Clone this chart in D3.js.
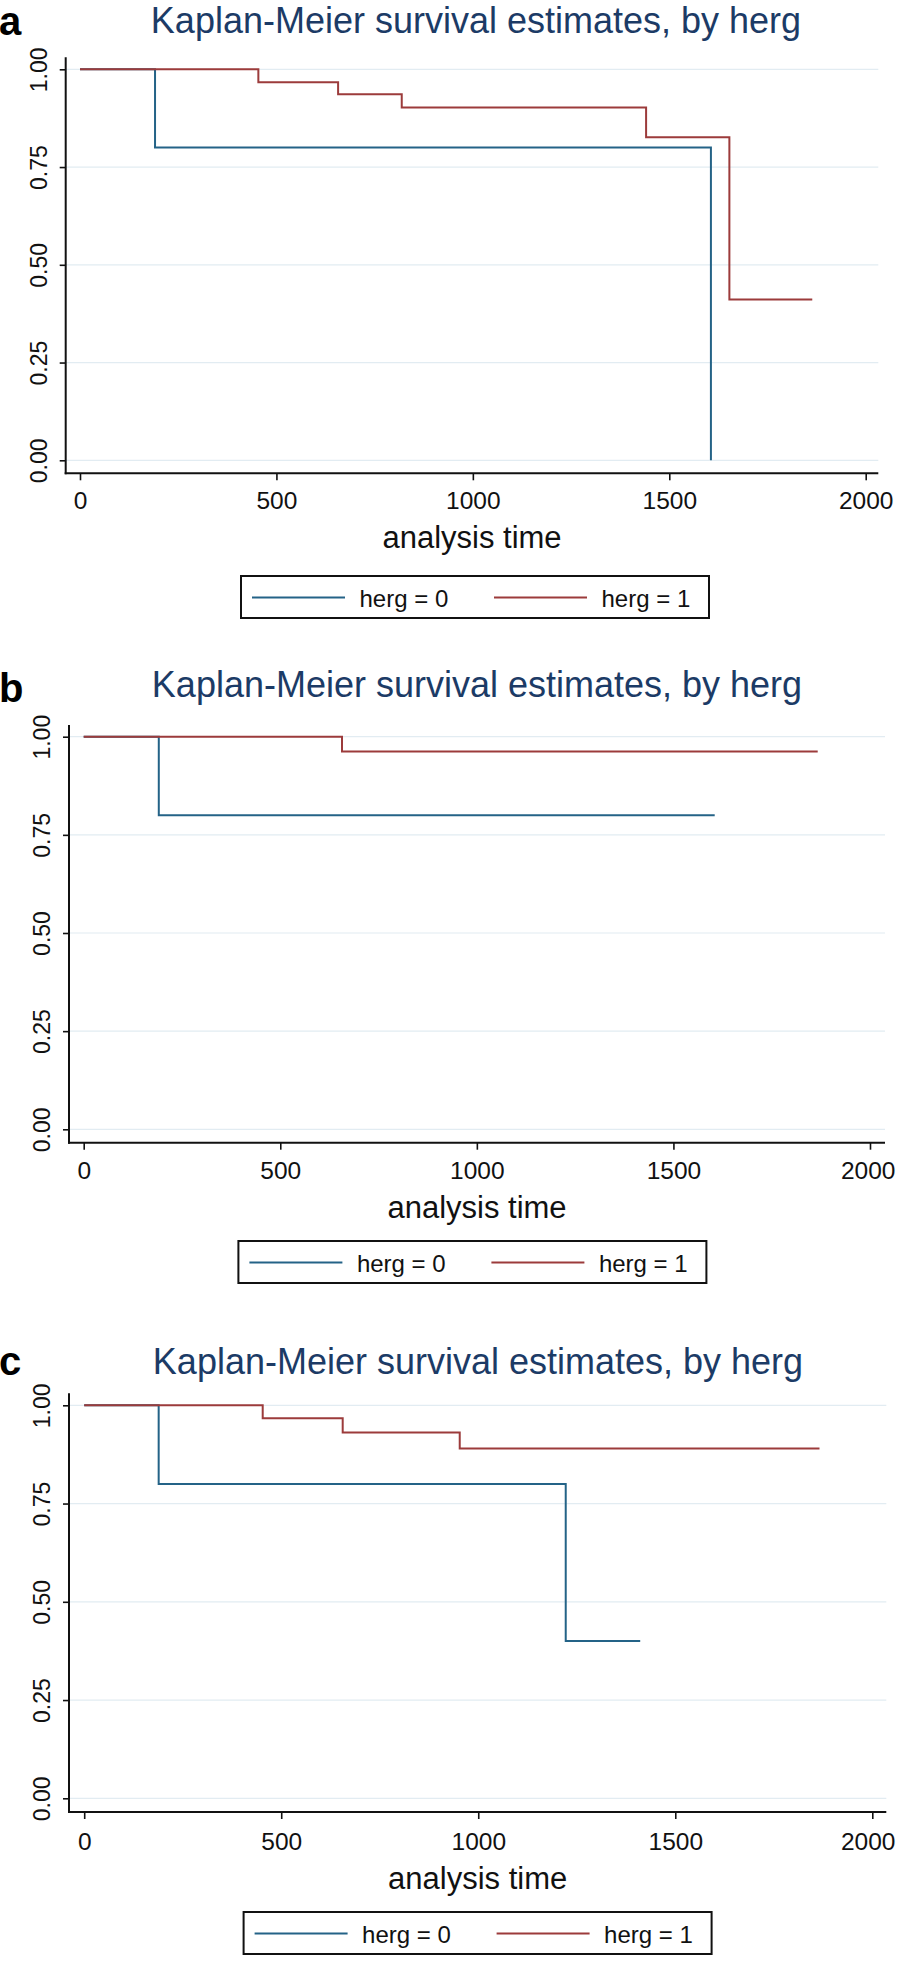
<!DOCTYPE html>
<html><head><meta charset="utf-8">
<script src="https://cdn.jsdelivr.net/npm/d3@7"></script>
<style>
body{margin:0;background:#fff}
svg{display:block}
text{font-family:"Liberation Sans",Arial,Helvetica,sans-serif}
</style>
</head><body>
<svg id="chart" width="898" height="1961"></svg>
<script>
// ---------- data ----------
const panelLabels = ["a", "b", "c"];
const chartTitle = "Kaplan-Meier survival estimates, by herg";
const xAxisTitle = "analysis time";
const seriesNames = ["herg = 0", "herg = 1"];
const xTicks = [0, 500, 1000, 1500, 2000];
const yTicks = [0, 0.25, 0.5, 0.75, 1];

const aHerg0Time = [0, 191, 1606];
const aHerg0Surv = [1, 0.8, 0];
const aHerg1Time = [0, 454, 657, 819, 1441, 1653, 1864];
const aHerg1Surv = [1, 0.967, 0.936, 0.902, 0.826, 0.411, 0.411];

const bHerg0Time = [0, 191, 1605];
const bHerg0Surv = [1, 0.8, 0.8];
const bHerg1Time = [0, 657, 1867];
const bHerg1Surv = [1, 0.962, 0.962];

const cHerg0Time = [0, 189, 1222, 1411];
const cHerg0Surv = [1, 0.8, 0.4, 0.4];
const cHerg1Time = [0, 453, 656, 953, 1866];
const cHerg1Surv = [1, 0.967, 0.931, 0.890, 0.890];

const panelSeries = [
  [[aHerg0Time, aHerg0Surv], [aHerg1Time, aHerg1Surv]],
  [[bHerg0Time, bHerg0Surv], [bHerg1Time, bHerg1Surv]],
  [[cHerg0Time, cHerg0Surv], [cHerg1Time, cHerg1Surv]]
];

// ---------- layout / style ----------
const seriesColors = ["#246387", "#9c3b3b"];
const layouts = [
  {letterY: 35, titleY: 33, titleX: 476, axisX: 65.7, axisTop: 57.3, axisY: 473.3, axisRight: 878.3,
   xr: [80, 865.7], yr: [460.3, 69.3], tickLabelY: 509.3, xTitleY: 548, legX: 241, legY: 576},
  {letterY: 701.7, titleY: 697, titleX: 477, axisX: 69, axisTop: 725, axisY: 1142.7, axisRight: 885,
   xr: [83.7, 870], yr: [1129.3, 736.7], tickLabelY: 1179.3, xTitleY: 1218.3, legX: 238.4, legY: 1241},
  {letterY: 1375, titleY: 1374, titleX: 478, axisX: 69, axisTop: 1393.3, axisY: 1812, axisRight: 886.3,
   xr: [84.2, 872.3], yr: [1798.3, 1405.3], tickLabelY: 1850, xTitleY: 1889.3, legX: 243.6, legY: 1912}
];
const svgWidth = 898;

const svg = d3.select("#chart");

layouts.forEach((L, pi) => {
  const g = svg.append("g");
  const x = d3.scaleLinear().domain([0, 2000]).range(L.xr);
  const y = d3.scaleLinear().domain([0, 1]).range(L.yr);

  // panel letter
  g.append("text").attr("x", -1).attr("y", L.letterY)
    .attr("font-size", 40).attr("font-weight", "bold").attr("fill", "#000")
    .text(panelLabels[pi]);

  // title
  g.append("text").attr("x", L.titleX).attr("y", L.titleY)
    .attr("text-anchor", "middle").attr("font-size", 36).attr("fill", "#1c3b66")
    .text(chartTitle);

  // gridlines
  g.append("g").selectAll("line").data(yTicks).join("line")
    .attr("x1", L.axisX).attr("x2", L.axisRight)
    .attr("y1", d => y(d)).attr("y2", d => y(d))
    .attr("stroke", "#e2ecf2").attr("stroke-width", 1.2);

  // y axis
  const yAxis = d3.axisLeft(y).tickValues(yTicks).tickFormat(d3.format(".2f"))
    .tickSize(6).tickSizeOuter(0);
  const yg = g.append("g").attr("transform", `translate(${L.axisX},0)`).call(yAxis);
  yg.select(".domain").remove();
  yg.selectAll(".tick line").attr("stroke", "#111").attr("stroke-width", 1.6);
  yg.selectAll(".tick text")
    .attr("x", null).attr("dy", null)
    .attr("transform", "translate(-19,0) rotate(-90)")
    .attr("text-anchor", "middle")
    .attr("font-size", 23).attr("fill", "#111")
    .style("font-family", "'Liberation Sans',Arial,sans-serif");

  // x axis
  const xAxis = d3.axisBottom(x).tickValues(xTicks).tickFormat(d3.format("d"))
    .tickSize(7).tickSizeOuter(0);
  const xg = g.append("g").attr("transform", `translate(0,${L.axisY})`).call(xAxis);
  xg.select(".domain").remove();
  xg.selectAll(".tick line").attr("stroke", "#111").attr("stroke-width", 1.6);
  xg.selectAll(".tick text")
    .attr("y", L.tickLabelY - L.axisY).attr("dy", null)
    .attr("font-size", 24.5).attr("fill", "#111")
    .style("font-family", "'Liberation Sans',Arial,sans-serif")
    .each(function(d) {
      // keep the outermost label inside the picture
      const w = this.getComputedTextLength();
      const over = x(d) + w / 2 - (svgWidth - 3);
      if (over > 0) d3.select(this).attr("x", -over);
    });

  // axis lines
  g.append("line").attr("x1", L.axisX).attr("x2", L.axisX)
    .attr("y1", L.axisTop).attr("y2", L.axisY + 1)
    .attr("stroke", "#111").attr("stroke-width", 2);
  g.append("line").attr("x1", L.axisX - 1).attr("x2", L.axisRight)
    .attr("y1", L.axisY).attr("y2", L.axisY)
    .attr("stroke", "#111").attr("stroke-width", 2);

  // KM step curves
  const line = d3.line().x(d => x(d[0])).y(d => y(d[1])).curve(d3.curveStepAfter);
  panelSeries[pi].forEach((s, si) => {
    const pts = s[0].map((t, i) => [t, s[1][i]]);
    g.append("path").datum(pts).attr("d", line)
      .attr("fill", "none").attr("stroke", seriesColors[si])
      .attr("stroke-width", 2).attr("stroke-linejoin", "miter");
  });

  // x axis title
  g.append("text").attr("x", (L.axisX + L.axisRight) / 2).attr("y", L.xTitleY)
    .attr("text-anchor", "middle").attr("font-size", 31).attr("fill", "#111")
    .text(xAxisTitle);

  // legend
  const lg = g.append("g").attr("transform", `translate(${L.legX},${L.legY})`);
  lg.append("rect").attr("x", 0).attr("y", 0).attr("width", 468).attr("height", 42)
    .attr("fill", "#fff").attr("stroke", "#111").attr("stroke-width", 2);
  const keyOffsets = [11, 253];
  const textOffsets = [118.5, 360.5];
  seriesNames.forEach((name, si) => {
    lg.append("line").attr("x1", keyOffsets[si]).attr("x2", keyOffsets[si] + 93)
      .attr("y1", 21.5).attr("y2", 21.5)
      .attr("stroke", seriesColors[si]).attr("stroke-width", 2);
    lg.append("text").attr("x", textOffsets[si]).attr("y", 30.5)
      .attr("font-size", 24).attr("fill", "#111").text(name);
  });
});
</script>
</body></html>
